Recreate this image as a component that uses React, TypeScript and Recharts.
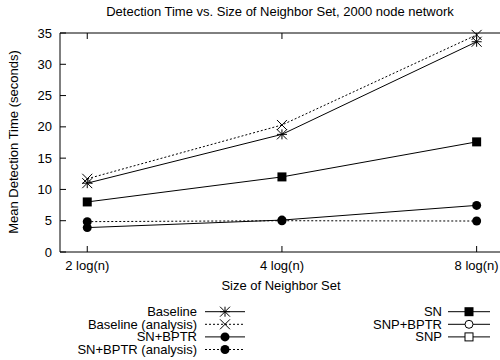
import React from 'react';
import { LineChart, Line, XAxis, YAxis } from 'recharts';

const categories = ['2 log(n)', '4 log(n)', '8 log(n)'];
const baseline = [11.0, 18.8, 33.6];
const baselineAnalysis = [11.7, 20.3, 34.7];
const sn = [8.0, 12.0, 17.6];
const snBptr = [3.9, 5.1, 7.45];
const snBptrAnalysis = [4.85, 5.0, 4.95];
const yTicks = [0, 5, 10, 15, 20, 25, 30, 35];

const data = categories.map((c, i) => ({
    x: i + 1,
    baseline: baseline[i],
    baselineAnalysis: baselineAnalysis[i],
    sn: sn[i],
    snBptr: snBptr[i],
    snBptrAnalysis: snBptrAnalysis[i],
}));

const FONT = '"Liberation Sans", Arial, sans-serif';
const FS = 13;

type Shape = 'asterisk' | 'cross' | 'circle' | 'square' | 'openCircle' | 'openSquare';

const Marker = ({ cx, cy, shape }: { cx: number; cy: number; shape: Shape }) => {
    const s = 5;
    switch (shape) {
        case 'asterisk':
            return (
                <g stroke="#000" strokeWidth={1}>
                    <line x1={cx - s} y1={cy} x2={cx + s} y2={cy} />
                    <line x1={cx} y1={cy - s} x2={cx} y2={cy + s} />
                    <line x1={cx - s} y1={cy - s} x2={cx + s} y2={cy + s} />
                    <line x1={cx - s} y1={cy + s} x2={cx + s} y2={cy - s} />
                </g>
            );
        case 'cross':
            return (
                <g stroke="#000" strokeWidth={1}>
                    <line x1={cx - s} y1={cy - s} x2={cx + s} y2={cy + s} />
                    <line x1={cx - s} y1={cy + s} x2={cx + s} y2={cy - s} />
                </g>
            );
        case 'circle':
            return <circle cx={cx} cy={cy} r={4.5} fill="#000" />;
        case 'square':
            return <rect x={cx - 4.5} y={cy - 4.5} width={9} height={9} fill="#000" />;
        case 'openCircle':
            return <circle cx={cx} cy={cy} r={4} fill="#fff" stroke="#000" />;
        case 'openSquare':
            return <rect x={cx - 4} y={cy - 4} width={8} height={8} fill="#fff" stroke="#000" />;
    }
    return null;
};

const dotFor = (shape: Shape) => (props: any) => (
    <g key={`${shape}-${props.index}`}>
        <Marker cx={props.cx} cy={props.cy} shape={shape} />
    </g>
);

const series = [
    { key: 'baseline', name: 'Baseline', shape: 'asterisk' as Shape, dash: undefined },
    { key: 'baselineAnalysis', name: 'Baseline (analysis)', shape: 'cross' as Shape, dash: '2 2' },
    { key: 'snBptr', name: 'SN+BPTR', shape: 'circle' as Shape, dash: undefined },
    { key: 'snBptrAnalysis', name: 'SN+BPTR (analysis)', shape: 'circle' as Shape, dash: '2 2' },
    { key: 'sn', name: 'SN', shape: 'square' as Shape, dash: undefined },
];

const legendLeft = [
    { name: 'Baseline', shape: 'asterisk' as Shape, dash: undefined },
    { name: 'Baseline (analysis)', shape: 'cross' as Shape, dash: '2 2' },
    { name: 'SN+BPTR', shape: 'circle' as Shape, dash: undefined },
    { name: 'SN+BPTR (analysis)', shape: 'circle' as Shape, dash: '2 2' },
];
const legendRight = [
    { name: 'SN', shape: 'square' as Shape, dash: undefined },
    { name: 'SNP+BPTR', shape: 'openCircle' as Shape, dash: undefined },
    { name: 'SNP', shape: 'openSquare' as Shape, dash: undefined },
];

const LeftTick = (props: any) => (
    <g>
        <line x1={props.x} y1={props.y} x2={props.x + 6} y2={props.y} stroke="#000" />
        <text x={props.x - 8} y={props.y + 4.5} textAnchor="end" fontSize={FS} fontFamily={FONT} fill="#000">
            {props.payload.value}
        </text>
    </g>
);
const RightTick = (props: any) => (
    <line x1={props.x} y1={props.y} x2={props.x - 6} y2={props.y} stroke="#000" />
);
const BottomTick = (props: any) => (
    <g>
        <line x1={props.x} y1={props.y} x2={props.x} y2={props.y - 6} stroke="#000" />
        <text x={props.x} y={props.y + 18} textAnchor="middle" fontSize={FS} fontFamily={FONT} fill="#000">
            {categories[props.payload.value - 1]}
        </text>
    </g>
);
const TopTick = (props: any) => (
    <line x1={props.x} y1={props.y} x2={props.x} y2={props.y + 6} stroke="#000" />
);

const LegendBlock = ({ items, textRight, lineX1, lineX2, top }: any) => (
    <g>
        {items.map((it: any, i: number) => {
            const y = top + i * 12.6;
            const mid = (lineX1 + lineX2) / 2;
            return (
                <g key={it.name}>
                    <text x={textRight} y={y + 4.5} textAnchor="end" fontSize={FS} fontFamily={FONT} fill="#000">
                        {it.name}
                    </text>
                    <line x1={lineX1} y1={y} x2={lineX2} y2={y} stroke="#000" strokeDasharray={it.dash} />
                    <Marker cx={mid} cy={y} shape={it.shape} />
                </g>
            );
        })}
    </g>
);

export default function App() {
    return (
        <div style={{ position: 'absolute', left: 0, top: 0, width: 500, height: 360, background: '#fff' }}>
            <LineChart width={500} height={360} data={data} margin={{ top: 23, right: 0, bottom: 78, left: 0 }}>
                <XAxis
                    dataKey="x"
                    type="number"
                    domain={[0.86, 3.12]}
                    ticks={[1, 2, 3]}
                    height={30}
                    tickSize={0}
                    tickMargin={0}
                    tickLine={false}
                    tick={<BottomTick />}
                    axisLine={{ stroke: '#000' }}
                    interval={0}
                    allowDataOverflow
                />
                <XAxis
                    xAxisId="t"
                    orientation="top"
                    dataKey="x"
                    type="number"
                    domain={[0.86, 3.12]}
                    ticks={[1, 2, 3]}
                    height={10}
                    tickSize={0}
                    tickMargin={0}
                    tickLine={false}
                    tick={<TopTick />}
                    axisLine={{ stroke: '#000' }}
                    interval={0}
                    allowDataOverflow
                />
                <YAxis
                    type="number"
                    domain={[0, 35]}
                    ticks={yTicks}
                    width={60}
                    tickSize={0}
                    tickMargin={0}
                    tickLine={false}
                    tick={<LeftTick />}
                    axisLine={{ stroke: '#000' }}
                    interval={0}
                />
                <YAxis
                    yAxisId="r"
                    orientation="right"
                    type="number"
                    domain={[0, 35]}
                    ticks={yTicks}
                    width={0}
                    tickSize={0}
                    tickMargin={0}
                    tickLine={false}
                    tick={<RightTick />}
                    axisLine={false}
                    interval={0}
                />
                {series.map((s) => (
                    <Line
                        key={s.key}
                        dataKey={s.key}
                        name={s.name}
                        stroke="#000"
                        strokeWidth={1}
                        strokeDasharray={s.dash}
                        dot={dotFor(s.shape)}
                        activeDot={false}
                        isAnimationActive={false}
                    />
                ))}
            </LineChart>
            <svg width={500} height={360} style={{ position: 'absolute', left: 0, top: 0, pointerEvents: 'none' }}>
                <text x={280} y={16} textAnchor="middle" fontSize={FS} fontFamily={FONT} fill="#000">
                    Detection Time vs. Size of Neighbor Set, 2000 node network
                </text>
                <text
                    x={0}
                    y={0}
                    transform="translate(18,142) rotate(-90)"
                    textAnchor="middle"
                    fontSize={FS}
                    fontFamily={FONT}
                    fill="#000"
                >
                    Mean Detection Time (seconds)
                </text>
                <text x={281} y={289.5} textAnchor="middle" fontSize={FS} fontFamily={FONT} fill="#000">
                    Size of Neighbor Set
                </text>
                <LegendBlock items={legendLeft} textRight={197} lineX1={205} lineX2={245} top={311.7} />
                <LegendBlock items={legendRight} textRight={442} lineX1={448} lineX2={490} top={311.7} />
            </svg>
        </div>
    );
}
